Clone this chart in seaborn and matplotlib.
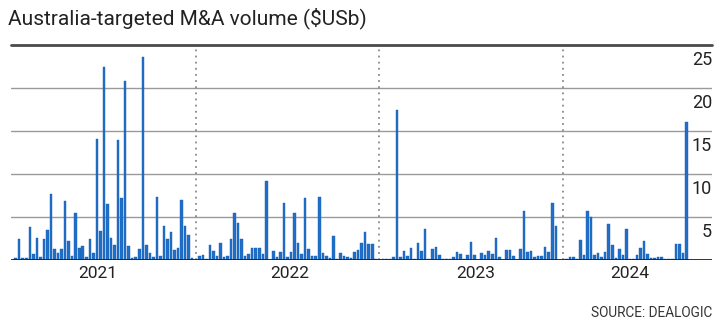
import numpy as np
import pandas as pd
import matplotlib
matplotlib.use("Agg")
import matplotlib.pyplot as plt
from matplotlib import transforms
import seaborn as sns

# Weekly Australia-targeted M&A volume, $US billions
vol_2021 = [0.27, 2.4, 0.27, 0.2, 3.8, 0.65, 2.6, 0.4, 2.4, 3.5,
            7.7, 1.25, 0.85, 1.3, 6.9, 2.2, 0.45, 5.5, 1.35, 1.6,
            0.4, 2.4, 0.8, 14.1, 3.4, 22.4, 6.5, 2.6, 1.7, 14.0,
            7.25, 20.8, 1.6, 0.22, 0.35, 1.3, 23.6, 1.7, 0.8, 0.4,
            7.3, 0.45, 4.0, 2.4, 3.3, 1.2, 1.4, 7.0, 3.9, 2.9,
            0.22]
vol_2022 = [0.0, 0.5, 0.6, 0.15, 1.8, 1.0, 0.45, 2.0, 0.3, 0.5,
            2.4, 5.5, 4.3, 2.4, 0.45, 0.7, 1.35, 1.45, 1.45, 0.7,
            9.15, 0.0, 1.1, 0.3, 0.9, 6.65, 0.3, 0.9, 5.5, 2.0,
            0.65, 7.2, 1.3, 0.5, 0.5, 7.3, 0.85, 0.45, 0.27, 2.8,
            0.1, 0.8, 0.5, 0.4, 0.27, 0.9, 1.15, 2.0, 3.2, 1.85,
            1.9, 0.15]
vol_2023 = [0.0, 0.15, 0.15, 0.1, 0.4, 17.4, 0.4, 1.1, 0.45, 1.45,
            0.15, 2.0, 1.05, 3.6, 0.15, 1.25, 1.55, 0.6, 0.08, 0.08,
            0.08, 0.3, 0.9, 0.65, 0.08, 0.6, 2.1, 0.55, 0.05, 0.77,
            0.55, 1.0, 0.65, 2.6, 0.35, 0.05, 1.15, 1.15, 0.45, 0.05,
            1.25, 5.75, 0.9, 1.0, 0.4, 0.45, 0.45, 1.55, 0.9, 6.65,
            4.0, 0.0]
vol_2024 = [0.0, 0.08, 0.35, 0.3, 0.1, 2.3, 0.6, 5.65, 4.95, 0.6,
            0.8, 0.4, 0.9, 4.2, 1.75, 0.2, 1.25, 0.6, 3.65, 0.15,
            0.15, 0.55, 1.4, 2.25, 0.75, 0.25, 0.25, 0.3, 0.35, 0.1,
            0.08, 0.15, 1.9, 1.9, 0.77, 16.1]

years = ["2021", "2022", "2023", "2024"]
y_ticks = [5, 10, 15, 20, 25]

series = [vol_2021, vol_2022, vol_2023, vol_2024]
values = np.concatenate(series)
week = np.arange(len(values))
df = pd.DataFrame({"week": week, "volume": values})

# first week of each calendar year after the first
year_starts = np.cumsum([len(s) for s in series])[:-1]
label_pos = [23.3, 77.7, 130.4, 174.0]

sns.set_theme(style="white")
plt.rcParams["font.family"] = ["Roboto", "DejaVu Sans"]

fig = plt.figure(figsize=(7.27, 3.26), dpi=100)
ax = fig.add_axes([11 / 727, 66 / 326, 701 / 727, 215 / 326])

sns.barplot(data=df, x="week", y="volume", native_scale=True, width=0.72,
            color="#1f6fc8", saturation=1, edgecolor="#1a5fb0",
            linewidth=0.3, ax=ax)

ax.set_xlim(-1.33, 197.25)
ax.set_ylim(0, 25)

# horizontal grid, heavier rule on top, dark baseline
for v in y_ticks[:-1]:
    ax.axhline(v, color="#9a9a9a", lw=1.0, zorder=0)
ax.axhline(25, color="#4a4a4a", lw=2.0, zorder=3, clip_on=False)
ax.axhline(0, color="#222222", lw=1.3, zorder=3)

# dotted year dividers
ax.vlines(year_starts, 0, 24.7, colors="#8a8a8a", linestyles=(0, (1, 2.4)),
          lw=1.3, zorder=1)

for s in ax.spines.values():
    s.set_visible(False)

ax.set_yticks([])
ax.set_xticks(label_pos)
ax.set_xticklabels(years, fontsize=12.5, color="#222222")
ax.tick_params(axis="x", length=0, pad=4)
ax.set_xlabel("")
ax.set_ylabel("")

# value labels sit just under each grid line at the right edge
lab_tr = transforms.offset_copy(ax.get_yaxis_transform(), fig=fig,
                                x=0, y=-4.5, units="points")
for v in y_ticks:
    ax.text(1.0, v, str(v), transform=lab_tr, ha="right", va="top",
            fontsize=13, color="#222222")

fig.text(8 / 727, 1 - 18 / 326, "Australia-targeted M&A volume ($USb)",
         ha="left", va="center", fontsize=15, color="#222222")
fig.text(712 / 727, 1 - 313 / 326, "SOURCE: DEALOGIC",
         ha="right", va="center", fontsize=9.8, color="#333333")

fig.savefig("out.png", dpi=100)
